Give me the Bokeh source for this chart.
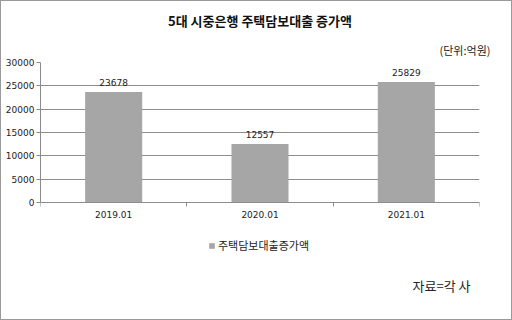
from bokeh.plotting import figure
from bokeh.models import (Range1d, FixedTicker, LinearAxis, Title, Legend, LegendItem,
                          Label, ColumnDataSource)
from bokeh.core.properties import value
from bokeh.embed import file_html
from bokeh.resources import INLINE

categories = ["2019.01", "2020.01", "2021.01"]
values = [23678, 12557, 25829]
y_ticks = [0, 5000, 10000, 15000, 20000, 25000, 30000]
title_text = "5대 시중은행 주택담보대출 증가액"
unit_text = "(단위:억원)"
series_name = "주택담보대출증가액"
source_text = "자료=각 사"

KR = "Noto Sans CJK KR"
xs = [i + 0.5 for i in range(len(categories))]
src = ColumnDataSource(dict(x=xs, v=values, lab=[str(v) for v in values]))

# frame: top at 30000, value 0 is 140 px lower, frame continues 117 px below 0
y_max = y_ticks[-1]
y_min = -y_max * 117 / 140

p = figure(frame_width=439, frame_height=257, output_backend="svg", toolbar_location=None,
           x_range=Range1d(0, len(categories)), y_range=Range1d(y_min, y_max),
           min_border_left=39, min_border_right=32, min_border_top=61, min_border_bottom=0,
           styles={"border": "1px solid #9a9a9a"})
p.outline_line_color = None
p.xgrid.visible = False
p.ygrid.grid_line_color = "#8c8c8c"
p.ygrid.grid_line_width = 1
p.ygrid.ticker = FixedTicker(ticks=y_ticks)

p.title = Title(text=title_text, align="center", text_font=KR, text_font_size="13px",
                text_font_style="bold", text_color="#111111", offset=0, standoff=9)
p.add_layout(Title(text=unit_text, align="right", text_font=KR, text_font_size="11px",
                   text_font_style="normal", text_color="#222222", offset=-11, standoff=10),
             "above")

r = p.vbar(x="x", top="v", width=0.39, source=src, fill_color="#a6a6a6", line_color=None)
p.text(x="x", y="v", text="lab", source=src, text_align="center", text_baseline="bottom",
       y_offset=-6, text_font=value("DejaVu Sans"), text_font_size="9px", text_color="#222222")

# y axis
ya = p.yaxis[0]
ya.ticker = FixedTicker(ticks=y_ticks)
ya.bounds = (0, y_max)
ya.axis_line_color = "#8c8c8c"
ya.major_tick_line_color = "#8c8c8c"
ya.major_tick_out = 4
ya.major_tick_in = 0
ya.minor_tick_line_color = None
ya.major_label_text_font = "DejaVu Sans"
ya.major_label_text_font_size = "9px"
ya.major_label_text_color = "#222222"
ya.major_label_standoff = 2

# x axis at value 0, ticks at category boundaries
xa = p.xaxis[0]
xa.fixed_location = 0
xa.ticker = FixedTicker(ticks=list(range(len(categories) + 1)))
xa.major_label_overrides = {i: "" for i in range(len(categories) + 1)}
xa.axis_line_color = "#8c8c8c"
xa.major_tick_line_color = "#8c8c8c"
xa.major_tick_out = 4
xa.major_tick_in = 0
xa.minor_tick_line_color = None
xa.major_label_text_font_size = "1px"
xa.major_label_standoff = 0

xa2 = LinearAxis(ticker=FixedTicker(ticks=xs), fixed_location=0,
                 major_label_overrides={x: c for x, c in zip(xs, categories)})
xa2.axis_line_color = None
xa2.major_tick_line_color = None
xa2.minor_tick_line_color = None
xa2.major_tick_out = 0
xa2.major_label_text_font = "DejaVu Sans"
xa2.major_label_text_font_size = "9px"
xa2.major_label_text_color = "#222222"
xa2.major_label_standoff = 8
p.add_layout(xa2, "below")

legend = Legend(items=[LegendItem(label=series_name, renderers=[r])],
                location=(168, 66), orientation="horizontal",
                label_text_font=KR, label_text_font_size="11px", label_text_color="#222222",
                glyph_width=7, glyph_height=7, label_standoff=3, padding=0, margin=0,
                label_height=14, border_line_color=None, background_fill_alpha=0)
p.add_layout(legend)

p.add_layout(Label(x=430, y=34, x_units="screen", y_units="screen", text=source_text,
                   text_font=KR, text_font_size="13px",
                   text_align="right", text_baseline="middle", text_color="#222222"))

open("out.html", "w").write(file_html(p, INLINE))
